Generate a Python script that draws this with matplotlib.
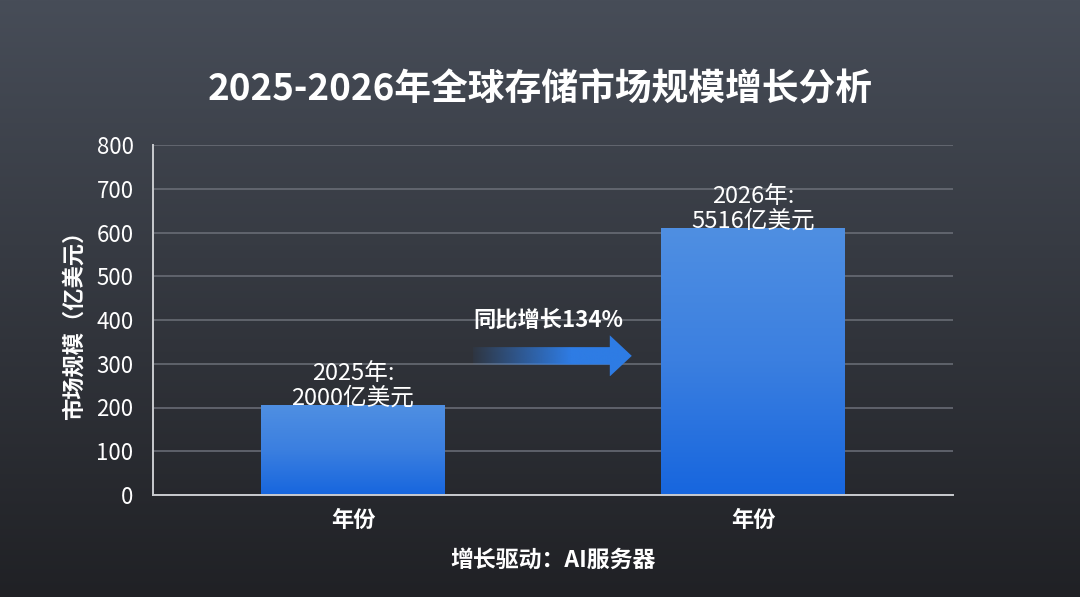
import numpy as np
import matplotlib
matplotlib.use('Agg')
import matplotlib.pyplot as plt
from matplotlib.patches import Polygon
from matplotlib.colors import LinearSegmentedColormap

plt.rcParams['font.family'] = ['Noto Sans CJK SC', 'DejaVu Sans']

# data
years = ['2025年', '2026年']
tick_labels = ['年份', '年份']
bar_heights = [205, 610]
value_labels = ['2000亿美元', '5516亿美元']
growth_text = '同比增长134%'
yticks = [0, 100, 200, 300, 400, 500, 600, 700, 800]

fig = plt.figure(figsize=(10.8, 5.97), dpi=100)

# background gradient (lighter at top, darker at bottom)
bg = fig.add_axes([0, 0, 1, 1], zorder=-10)
bg.axis('off')
top = np.array([0x47, 0x4d, 0x58]) / 255
bot = np.array([0x20, 0x21, 0x25]) / 255
t = np.linspace(0, 1, 300)[:, None]
grad = top[None, :] * (1 - t) + bot[None, :] * t
bg.imshow(grad[:, None, :].repeat(2, axis=1), aspect='auto', extent=[0, 1, 0, 1])

ax = fig.add_axes([153 / 1080, 1 - 495 / 597, 800 / 1080, 350 / 597])
ax.patch.set_alpha(0)

x = np.arange(len(years))
width = 0.46
bars = ax.bar(x, bar_heights, width=width, color='none', zorder=3)

# light at the top, deeper blue at the base
bar_cmap = LinearSegmentedColormap.from_list('bar', ['#1766de', '#3b7fe0', '#4f8fe2'])
for b in bars:
    x0, y0 = b.get_x(), b.get_y()
    w, h = b.get_width(), b.get_height()
    im = ax.imshow(np.linspace(0, 1, 200)[:, None], cmap=bar_cmap, aspect='auto',
                   extent=[x0, x0 + w, y0, y0 + h], origin='lower', zorder=3)
    im.set_clip_path(b)

# value labels
for xi, h, yr, lab in zip(x, bar_heights, years, value_labels):
    ax.text(xi, h + 45, yr + ':\n' + lab, ha='center', va='center', color='white',
            fontsize=17, linespacing=1.1, zorder=5)

# gradient arrow between bars
ax_y = 318
x_start, x_end = x[0] + 0.30, x[1] - 0.303
shaft, head_w, head_l = 20, 47, 0.055
pts = [(x_start, ax_y - shaft), (x_end - head_l, ax_y - shaft), (x_end - head_l, ax_y - head_w),
       (x_end, ax_y), (x_end - head_l, ax_y + head_w), (x_end - head_l, ax_y + shaft),
       (x_start, ax_y + shaft)]
arrow = Polygon(pts, closed=True, facecolor='none', edgecolor='none', transform=ax.transData)
ax.add_patch(arrow)
n = 300
rgba = np.zeros((1, n, 4))
rgba[..., 0] = 0x2e / 255
rgba[..., 1] = 0x7c / 255
rgba[..., 2] = 0xe4 / 255
rgba[..., 3] = np.clip(np.linspace(0.05, 1.6, n), 0, 1)
aim = ax.imshow(rgba, aspect='auto', extent=[x_start, x_end, ax_y - head_w, ax_y + head_w], zorder=4)
aim.set_clip_path(arrow)
ax.text((x_start + x_end) / 2 - 0.01, 400, growth_text, ha='center', va='center', color='white',
        fontsize=16, fontweight='bold', zorder=5)

ax.set_xlim(-0.5, 1.5)
ax.set_ylim(0, 800)
ax.set_yticks(yticks)
ax.set_xticks(x)
ax.set_xticklabels(tick_labels, fontsize=16, fontweight='bold', color='white')
ax.tick_params(axis='y', colors='white', labelsize=16, length=0, pad=14)
ax.tick_params(axis='x', colors='white', length=0, pad=10)
for lab in ax.get_yticklabels():
    lab.set_fontweight('medium')
ax.grid(axis='y', color='#6c7079', linewidth=1.1, zorder=1)
ax.set_axisbelow(True)
for s in ['top', 'right']:
    ax.spines[s].set_visible(False)
for s in ['left', 'bottom']:
    ax.spines[s].set_color('#c9cbcf')
    ax.spines[s].set_linewidth(1.4)
    ax.spines[s].set_zorder(6)

ax.set_ylabel('市场规模（亿美元）', color='white', fontsize=16, fontweight='bold', labelpad=8)
ax.set_xlabel('增长驱动：AI服务器', color='white', fontsize=16.5, fontweight='bold', labelpad=12)

fig.text(0.5, 1 - 90 / 597, '2025-2026年全球存储市场规模增长分析', ha='center', va='center',
         color='white', fontsize=26.5, fontweight='bold')

fig.savefig('out.png', dpi=100)
